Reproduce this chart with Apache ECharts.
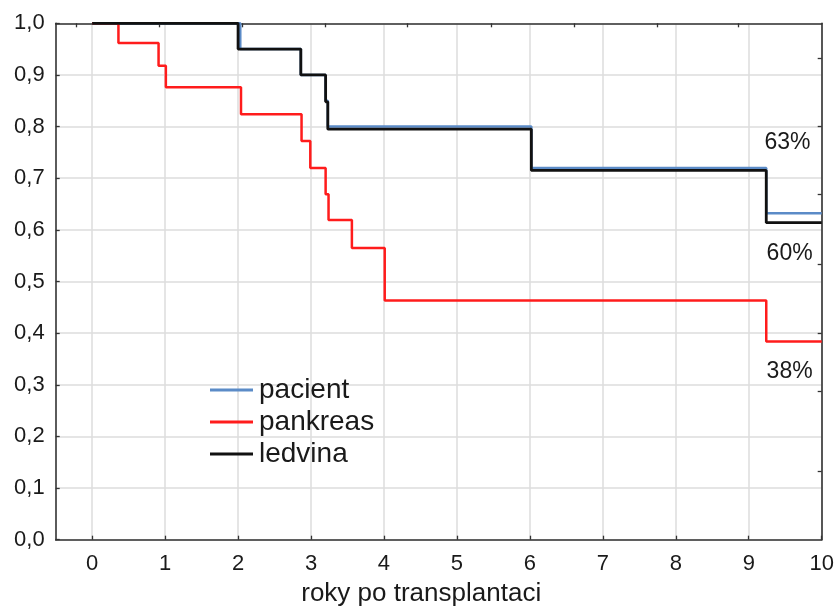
<!DOCTYPE html>
<html>
<head>
<meta charset="utf-8">
<script src="https://cdn.jsdelivr.net/npm/echarts@6/dist/echarts.min.js"></script>
<style>
html,body{margin:0;padding:0;background:#fff;}
#chart{width:838px;height:607px;}
</style>
</head>
<body>
<div id="chart"></div>
<script>
// ---- data ----
const seriesNames = ['pacient', 'pankreas', 'ledvina'];
const pacientX = [0, 2.03, 2.86, 3.20, 3.23, 6.02, 9.24, 10];
const pacientY = [1.0, 0.95, 0.90, 0.85, 0.80, 0.72, 0.632, 0.632];
const pankreasX = [0, 0.36, 0.91, 1.01, 2.04, 2.87, 2.99, 3.20, 3.24, 3.56, 4.01, 9.24, 10];
const pankreasY = [1.0, 0.962, 0.918, 0.876, 0.824, 0.772, 0.720, 0.669, 0.619, 0.565, 0.463, 0.384, 0.384];
const ledvinaX = [0, 2.00, 2.86, 3.20, 3.23, 6.02, 9.24, 10];
const ledvinaY = [1.0, 0.95, 0.90, 0.848, 0.795, 0.715, 0.614, 0.614];
const xTicks = [0, 1, 2, 3, 4, 5, 6, 7, 8, 9, 10];
const topTicks = [-0.219, 0.918, 2.056, 3.193, 4.317, 5.468, 6.605, 7.743, 8.853];
const rightTicks = [0.133, 0.288, 0.400, 0.534, 0.668, 0.801, 0.933];
const annotText = ['63%', '60%', '38%'];
const annotX = [9.53, 9.56, 9.56];
const annotY = [0.768, 0.554, 0.325];

const zip = (xs, ys) => xs.map((x, i) => [x, ys[i]]);
const FONT = "'Liberation Sans', Arial, sans-serif";
const colors = ['#5b8bc7', '#ff1c1c', '#111111'];

const chart = echarts.init(document.getElementById('chart'), null, {renderer: 'canvas'});

const axisLineStyle = {color: '#333', width: 1.6};

function annot(i) {
  return {
    symbol: 'circle',
    symbolSize: 1,
    silent: true,
    itemStyle: {color: 'rgba(0,0,0,0)'},
    label: {
      show: true, position: 'inside', formatter: annotText[i],
      fontFamily: FONT, fontSize: 23, color: '#1a1a1a'
    },
    data: [{coord: [annotX[i], annotY[i]]}]
  };
}

chart.setOption({
  animation: false,
  backgroundColor: '#fff',
  grid: {left: 55.7, right: 16.3, top: 23.3, bottom: 67.3, containLabel: false, outerBoundsMode: 'none'},
  legend: {
    orient: 'vertical', left: 205, top: 371,
    icon: 'rect', itemWidth: 43, itemHeight: 3, itemGap: 4,
    data: seriesNames,
    textStyle: {fontFamily: FONT, fontSize: 28, color: '#1a1a1a', lineHeight: 28, padding: [0, 0, 0, 1]}
  },
  xAxis: [{
    type: 'value', min: -0.5, max: 10, position: 'bottom',
    axisLine: {show: true, onZero: false, lineStyle: axisLineStyle},
    axisTick: {show: true, inside: true, length: 4, customValues: xTicks, lineStyle: {color: '#333', width: 1.3}},
    axisLabel: {customValues: xTicks, fontFamily: FONT, fontSize: 22, color: '#1a1a1a', margin: 13},
    splitLine: {show: true, lineStyle: {color: '#dcdcdc', width: 1.5}},
    name: 'roky po transplantaci', nameLocation: 'middle', nameGap: 41,
    nameTextStyle: {fontFamily: FONT, fontSize: 26, color: '#1a1a1a', padding: [0, 35, 0, 0]}
  }, {
    type: 'value', min: -0.5, max: 10, position: 'top',
    axisLine: {show: true, onZero: false, lineStyle: axisLineStyle},
    axisTick: {show: true, inside: true, length: 4, customValues: topTicks, lineStyle: {color: '#333', width: 1.3}},
    axisLabel: {show: false},
    splitLine: {show: false}
  }],
  yAxis: [{
    type: 'value', min: 0, max: 1, interval: 0.1, position: 'left',
    axisLine: {show: true, onZero: false, lineStyle: axisLineStyle},
    axisTick: {show: true, inside: true, length: 4, lineStyle: {color: '#333', width: 1.3}},
    axisLabel: {
      fontFamily: FONT, fontSize: 22, color: '#1a1a1a', margin: 11,
      formatter: v => v.toFixed(1).replace('.', ',')
    },
    splitLine: {show: true, lineStyle: {color: '#dcdcdc', width: 1.5}}
  }, {
    type: 'value', min: 0, max: 1, position: 'right',
    axisLine: {show: true, onZero: false, lineStyle: axisLineStyle},
    axisTick: {show: true, inside: true, length: 4, customValues: rightTicks, lineStyle: {color: '#333', width: 1.3}},
    axisLabel: {show: false},
    splitLine: {show: false}
  }],
  series: [{
    name: 'pacient', type: 'line', step: 'end', showSymbol: false, symbol: 'none',
    xAxisIndex: 0, yAxisIndex: 0, z: 2,
    lineStyle: {color: colors[0], width: 2.5}, itemStyle: {color: colors[0]},
    data: zip(pacientX, pacientY), markPoint: annot(0)
  }, {
    name: 'pankreas', type: 'line', step: 'end', showSymbol: false, symbol: 'none',
    xAxisIndex: 0, yAxisIndex: 0, z: 3,
    lineStyle: {color: colors[1], width: 2.5}, itemStyle: {color: colors[1]},
    data: zip(pankreasX, pankreasY), markPoint: annot(2)
  }, {
    name: 'ledvina', type: 'line', step: 'end', showSymbol: false, symbol: 'none',
    xAxisIndex: 0, yAxisIndex: 0, z: 4,
    lineStyle: {color: colors[2], width: 2.8}, itemStyle: {color: colors[2]},
    data: zip(ledvinaX, ledvinaY), markPoint: annot(1)
  }]
});
</script>
</body>
</html>
